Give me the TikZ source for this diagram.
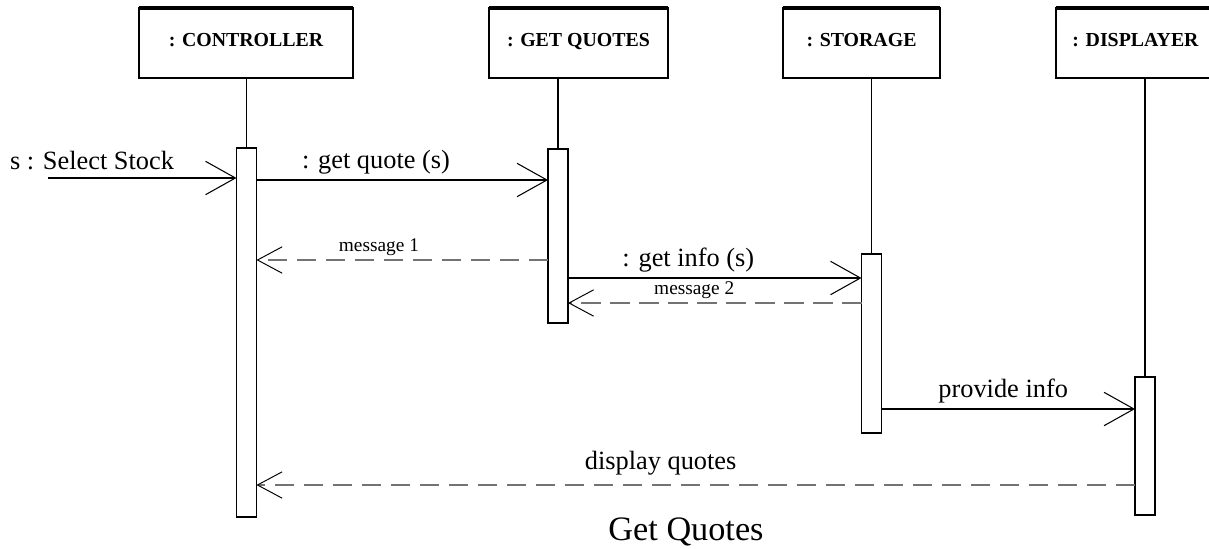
\documentclass[tikz,border=0pt]{standalone}
\usepackage{fontspec}
\setmainfont{Liberation Serif}
\usetikzlibrary{arrows.meta}

\begin{document}
\begin{tikzpicture}[
    x=0.02cm, y=-0.02cm,
    objbox/.style={rectangle, draw, line width=0.7pt, minimum height=1.4cm, outer sep=0pt,
        text depth=4pt, font=\fontsize{11.3}{13}\selectfont\bfseries},
    actbar/.style={rectangle, draw, line width=0.7pt, minimum width=0.4cm, anchor=north, outer sep=0pt},
    topedge/.style={line width=1.8pt},
    lifeline/.style={line width=0.6pt},
    call/.style={-{Straight Barb[length=17pt, width=19pt]}, line width=0.6pt},
    reply/.style={-{Straight Barb[length=14pt, width=15pt, color=black, line width=0.55pt]}, line width=0.9pt,
        draw=black!55, dash pattern=on 11pt off 5.5pt},
    lbl/.style={inner sep=3pt, font=\fontsize{15}{18}\selectfont},
    smlbl/.style={inner sep=2pt, font=\fontsize{11}{13}\selectfont}
]
    \path[use as bounding box, clip] (0,0) rectangle (1209,548);

    % Objects
    \node[objbox, minimum width=4.28cm] (ctrl) at (246,43) {: CONTROLLER};
    \node[objbox, minimum width=3.58cm] (gq) at (578.5,43) {: GET QUOTES};
    \node[objbox, minimum width=3.14cm] (st) at (861.5,43) {: STORAGE};
    \node[objbox, minimum width=3.18cm] (dp) at (1135.5,43) {: DISPLAYER};
    \foreach \b in {ctrl,gq,st,dp}
        \draw[topedge] (\b.north west) -- (\b.north east);

    % Activations
    \node[actbar, minimum height=7.38cm] (ctrlbar) at (246.5,148) {};
    \node[actbar, minimum height=3.48cm] (gqbar) at (558,149) {};
    \node[actbar, minimum height=3.58cm] (stbar) at (871.5,254) {};
    \node[actbar, minimum height=2.76cm] (dpbar) at (1145,377) {};

    % Lifelines
    \draw[lifeline] (ctrlbar.north |- ctrl.south) -- (ctrlbar.north);
    \draw[lifeline] (gqbar.north |- gq.south) -- (gqbar.north);
    \draw[lifeline] (stbar.north |- st.south) -- (stbar.north);
    \draw[lifeline] (dpbar.north |- dp.south) -- (dpbar.north);

    % Messages
    \coordinate (sel) at (48,178);
    \node[lbl, anchor=base] (sellbl) at (92,169) {s : Select Stock};
    \draw[call] (sel) -- (ctrlbar.west |- sel);
    \draw[call] (ctrlbar.east |- 0,180) -- node[lbl, above, pos=0.41] {: get quote (s)} (gqbar.west |- 0,180);
    \draw[reply] (gqbar.west |- 0,260) -- node[smlbl, above, pos=0.58] {message 1} (ctrlbar.east |- 0,260);
    \draw[call] (gqbar.east |- 0,278) -- node[lbl, above, pos=0.41] {: get info (s)} (stbar.west |- 0,278);
    \draw[reply] (stbar.west |- 0,303) -- node[smlbl, above, pos=0.57] {message 2} (gqbar.east |- 0,303);
    \draw[call] (stbar.east |- 0,409) -- node[lbl, above, pos=0.48] {provide info} (dpbar.west |- 0,409);
    \draw[reply] (dpbar.west |- 0,485) -- node[lbl, above=2pt, pos=0.54] {display quotes} (ctrlbar.east |- 0,485);

    % Caption
    \node[font=\fontsize{19.5}{22}\selectfont, anchor=base] (title) at (686,540) {Get Quotes};
\end{tikzpicture}
\end{document}
